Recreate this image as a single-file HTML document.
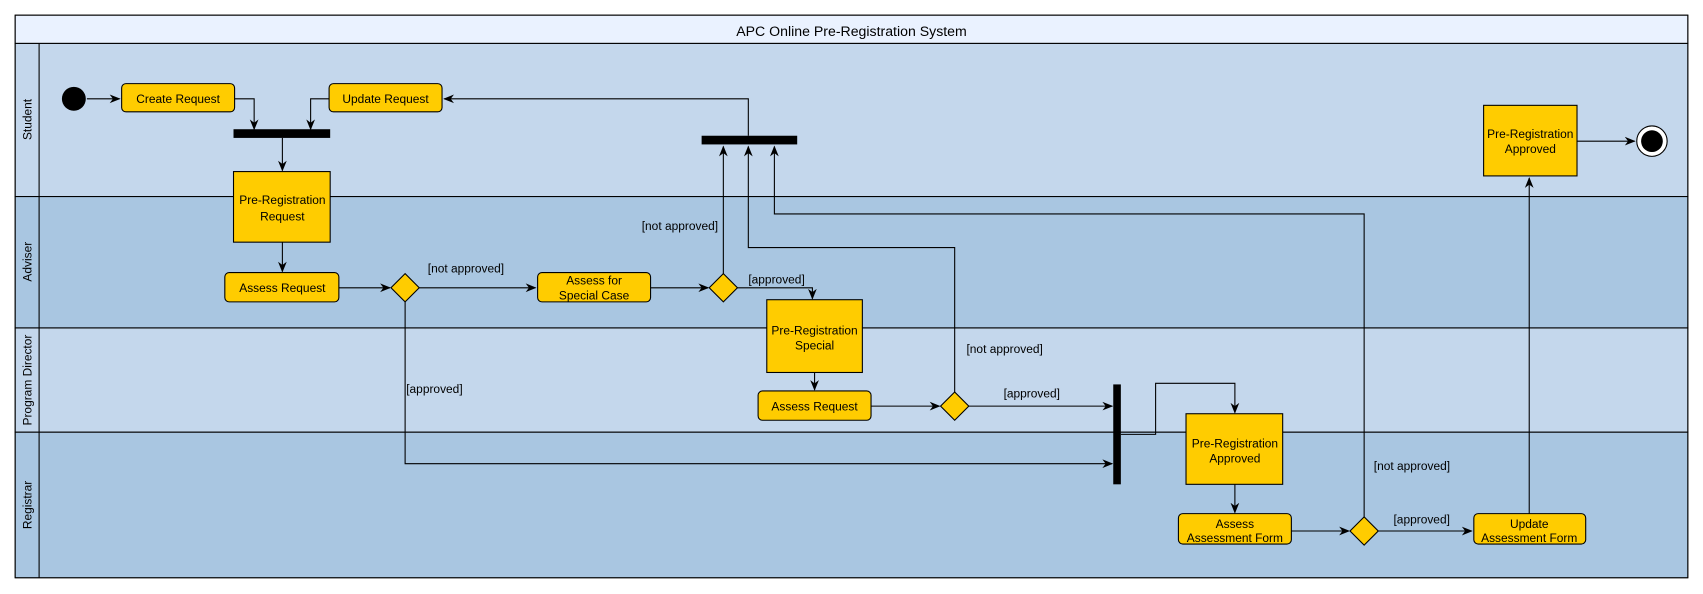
<!DOCTYPE html>
<html><head><meta charset="utf-8"><style>
html,body{margin:0;padding:0;background:#fff;}
svg{display:block;}
text{font-family:"Liberation Sans",Arial,sans-serif;font-size:11px;fill:#000;}
</style></head><body>
<svg width="1703" height="594" viewBox="0 0 1568 547" preserveAspectRatio="none" xmlns="http://www.w3.org/2000/svg">
<defs>
<marker id="a" markerWidth="10" markerHeight="10" refX="9" refY="5" orient="auto" markerUnits="userSpaceOnUse">
<path d="M0,1 L10,5 L0,9 L3,5 Z" fill="#000"/>
</marker>
</defs>
<!-- lanes -->
<rect x="14" y="14" width="1540" height="518" fill="#fff" stroke="#000"/>
<rect x="14" y="14" width="1540" height="26" fill="#EAF2FF" stroke="#000"/>
<text x="784" y="33" text-anchor="middle" style="font-size:13px">APC Online Pre-Registration System</text>
<rect x="14" y="40" width="1540" height="141" fill="#C4D7EC" stroke="#000"/>
<rect x="14" y="181" width="1540" height="121" fill="#A9C6E1" stroke="#000"/>
<rect x="14" y="302" width="1540" height="96" fill="#C4D7EC" stroke="#000"/>
<rect x="14" y="398" width="1540" height="134" fill="#A9C6E1" stroke="#000"/>
<line x1="36" y1="40" x2="36" y2="532" stroke="#000"/>
<text transform="translate(29,110) rotate(-90)" text-anchor="middle">Student</text>
<text transform="translate(29,241) rotate(-90)" text-anchor="middle">Adviser</text>
<text transform="translate(29,350) rotate(-90)" text-anchor="middle">Program Director</text>
<text transform="translate(29,465) rotate(-90)" text-anchor="middle">Registrar</text>

<g fill="none" stroke="#000" stroke-width="1">
<line x1="80" y1="91" x2="110" y2="91" marker-end="url(#a)"/>
<polyline points="216,91 234,91 234,119" marker-end="url(#a)"/>
<polyline points="303,91 286,91 286,119" marker-end="url(#a)"/>
<line x1="260" y1="127" x2="260" y2="157" marker-end="url(#a)"/>
<polyline points="689,125 689,91 409,91" marker-end="url(#a)"/>
<line x1="666" y1="252" x2="666" y2="135" marker-end="url(#a)"/>
<polyline points="879,361 879,228 689,228 689,135" marker-end="url(#a)"/>
<polyline points="1256,476 1256,197 713,197 713,135" marker-end="url(#a)"/>
<line x1="1452" y1="130" x2="1505" y2="130" marker-end="url(#a)"/>
<line x1="260" y1="223" x2="260" y2="250" marker-end="url(#a)"/>
<line x1="312" y1="265" x2="359" y2="265" marker-end="url(#a)"/>
<line x1="386" y1="265" x2="493" y2="265" marker-end="url(#a)"/>
<line x1="599" y1="265" x2="652" y2="265" marker-end="url(#a)"/>
<polyline points="679,265 748,265 748,275" marker-end="url(#a)"/>
<line x1="750" y1="343" x2="750" y2="359" marker-end="url(#a)"/>
<line x1="802" y1="374" x2="865" y2="374" marker-end="url(#a)"/>
<line x1="892" y1="374" x2="1024" y2="374" marker-end="url(#a)"/>
<polyline points="373,278 373,427 1024,427" marker-end="url(#a)"/>
<polyline points="1032,400 1064,400 1064,353 1137,353 1137,380" marker-end="url(#a)"/>
<line x1="1137" y1="446" x2="1137" y2="472" marker-end="url(#a)"/>
<line x1="1189" y1="489" x2="1242" y2="489" marker-end="url(#a)"/>
<line x1="1269" y1="489" x2="1355" y2="489" marker-end="url(#a)"/>
<line x1="1408" y1="473" x2="1408" y2="164" marker-end="url(#a)"/>
</g>

<!-- start / end -->
<circle cx="68" cy="91" r="11" fill="#000"/>
<circle cx="1521" cy="130" r="14" fill="#fff" stroke="#000"/>
<circle cx="1521" cy="130" r="10" fill="#000"/>
<!-- bars -->
<rect x="215" y="119" width="89" height="8" fill="#000"/>
<rect x="646" y="125" width="88" height="8" fill="#000"/>
<rect x="1025" y="354" width="7" height="92" fill="#000"/>

<g fill="#FFCC00" stroke="#000">
<rect x="112" y="77" width="104" height="26" rx="4"/>
<rect x="303" y="77" width="104" height="26" rx="4"/>
<rect x="215" y="158" width="89" height="65"/>
<rect x="1366" y="97" width="86" height="65"/>
<rect x="207" y="251" width="105" height="27" rx="4"/>
<rect x="495" y="251" width="104" height="27" rx="4"/>
<rect x="706" y="276" width="88" height="67"/>
<rect x="698" y="360" width="104" height="27" rx="4"/>
<rect x="1092" y="381" width="89" height="65"/>
<rect x="1085" y="473" width="104" height="28" rx="4"/>
<rect x="1357" y="473" width="103" height="28" rx="4"/>
<polygon points="373,252 386,265 373,278 360,265"/>
<polygon points="666,252 679,265 666,278 653,265"/>
<polygon points="879,361 892,374 879,387 866,374"/>
<polygon points="1256,476 1269,489 1256,502 1243,489"/>
</g>

<g text-anchor="middle">
<text x="164" y="95">Create Request</text>
<text x="355" y="95">Update Request</text>
<text x="260" y="188">Pre-Registration</text>
<text x="260" y="203">Request</text>
<text x="1409" y="127">Pre-Registration</text>
<text x="1409" y="141">Approved</text>
<text x="260" y="269">Assess Request</text>
<text x="547" y="262">Assess for</text>
<text x="547" y="276">Special Case</text>
<text x="750" y="308">Pre-Registration</text>
<text x="750" y="322">Special</text>
<text x="750" y="378">Assess Request</text>
<text x="1137" y="412">Pre-Registration</text>
<text x="1137" y="426">Approved</text>
<text x="1137" y="486">Assess</text>
<text x="1137" y="499">Assessment Form</text>
<text x="1408" y="486">Update</text>
<text x="1408" y="499">Assessment Form</text>
<text x="429" y="251">[not approved]</text>
<text x="626" y="212">[not approved]</text>
<text x="715" y="261">[approved]</text>
<text x="400" y="362">[approved]</text>
<text x="925" y="325">[not approved]</text>
<text x="950" y="366">[approved]</text>
<text x="1300" y="433">[not approved]</text>
<text x="1309" y="482">[approved]</text>
</g>
</svg>
</body></html>
